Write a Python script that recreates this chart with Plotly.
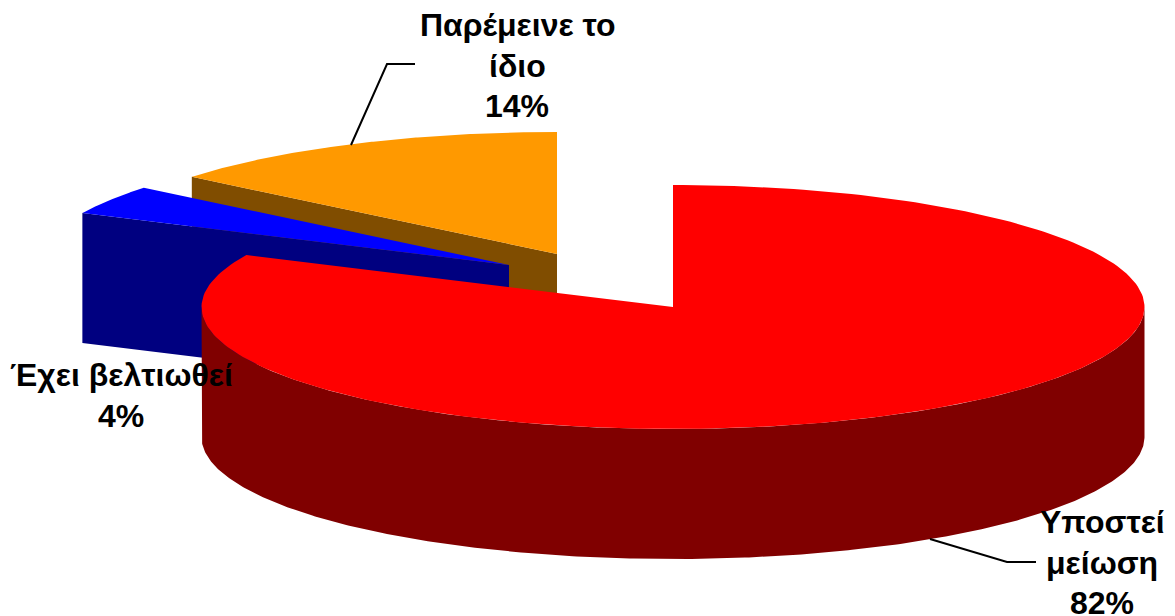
import numpy as np
import plotly.graph_objects as go

FONT = "Liberation Sans, Arial, sans-serif"

# Data, in pie order clockwise from 12 o'clock
categories = ["Υποστεί μείωση", "Έχει βελτιωθεί", "Παρέμεινε το ίδιο"]
percent_values = [82.0, 3.9, 14.1]
label_lines = [["Υποστεί", "μείωση", "82%"],
               ["Έχει βελτιωθεί", "4%"],
               ["Παρέμεινε το", "ίδιο", "14%"]]
top_colors = ["#FF0000", "#0000FF", "#FF9900"]
side_colors = ["#800000", "#000080", "#804D00"]

# Pie projection, in pixels of the page
RX, RY, DEPTH = 471.5, 122.0, 130.0
centers = [(673.0, 307.0), (509.0, 265.0), (557.0, 254.0)]


def ell(c, deg):
    a = np.radians(np.asarray(deg, dtype=float))
    return c[0] + RX * np.sin(a), c[1] - RY * np.cos(a)


# slice angles from values
edges = np.concatenate([[0.0], np.cumsum(percent_values)]) * 360.0 / sum(percent_values)
spans = list(zip(edges[:-1], edges[1:]))

fig = go.Figure()


def poly(x, y, color):
    fig.add_trace(go.Scatter(x=list(x), y=list(y), mode="lines", fill="toself",
                             fillcolor=color, line=dict(width=0, color=color),
                             hoverinfo="skip", showlegend=False))


def wedge_top(i):
    c = centers[i]
    t = np.linspace(spans[i][0], spans[i][1], 240)
    x, y = ell(c, t)
    return np.r_[c[0], x, c[0]], np.r_[c[1], y, c[1]]


def cut_face(i):
    """Wall along the slice's starting radius (left-facing slices show it)."""
    c = centers[i]
    px, py = ell(c, spans[i][0])
    xs = [px, c[0], c[0], px, px]
    ys = [py, c[1], c[1] + DEPTH, py + DEPTH, py]
    return xs, ys


def rim(i):
    """Outer wall of the front half (90..270 degrees clockwise from the top)."""
    c = centers[i]
    lo, hi = max(spans[i][0], 90), min(spans[i][1], 270)
    t = np.linspace(lo, hi, 360)
    x, y = ell(c, t)
    return np.r_[x, x[::-1]], np.r_[y, y[::-1] + DEPTH]


# Painter's order: orange, blue, red
for i in (2, 1):
    poly(*cut_face(i), side_colors[i])
    poly(*wedge_top(i), top_colors[i])
poly(*rim(0), side_colors[0])
poly(*wedge_top(0), top_colors[0])

# Leader lines
fig.add_trace(go.Scatter(x=[415, 387, 351], y=[64, 64, 145], mode="lines",
                         line=dict(color="black", width=2), hoverinfo="skip", showlegend=False))
fig.add_trace(go.Scatter(x=[1036, 1007, 930], y=[562, 562, 539], mode="lines",
                         line=dict(color="black", width=2), hoverinfo="skip", showlegend=False))

# Labels: one annotation per line, for the source's line spacing
label_anchor = [(1102, 522), (121, 375), (517, 25)]
LINE = 40.5
for lines, (ax, ay) in zip(label_lines, label_anchor):
    for k, s in enumerate(lines):
        fig.add_annotation(x=ax, y=ay + k * LINE, text=f"<b>{s}</b>", showarrow=False,
                           xanchor="center", yanchor="middle", xref="x", yref="y",
                           font=dict(family=FONT, size=32, color="black"))

fig.update_layout(width=1175, height=616, autosize=False,
                  margin=dict(l=0, r=0, t=0, b=0, pad=0),
                  paper_bgcolor="white", plot_bgcolor="white", showlegend=False,
                  xaxis=dict(range=[0, 1175], visible=False, fixedrange=True),
                  yaxis=dict(range=[616, 0], visible=False, fixedrange=True))

fig.write_html("out.html", config=dict(displayModeBar=False),
               post_script="document.body.style.margin='0';document.body.style.overflow='hidden';")
